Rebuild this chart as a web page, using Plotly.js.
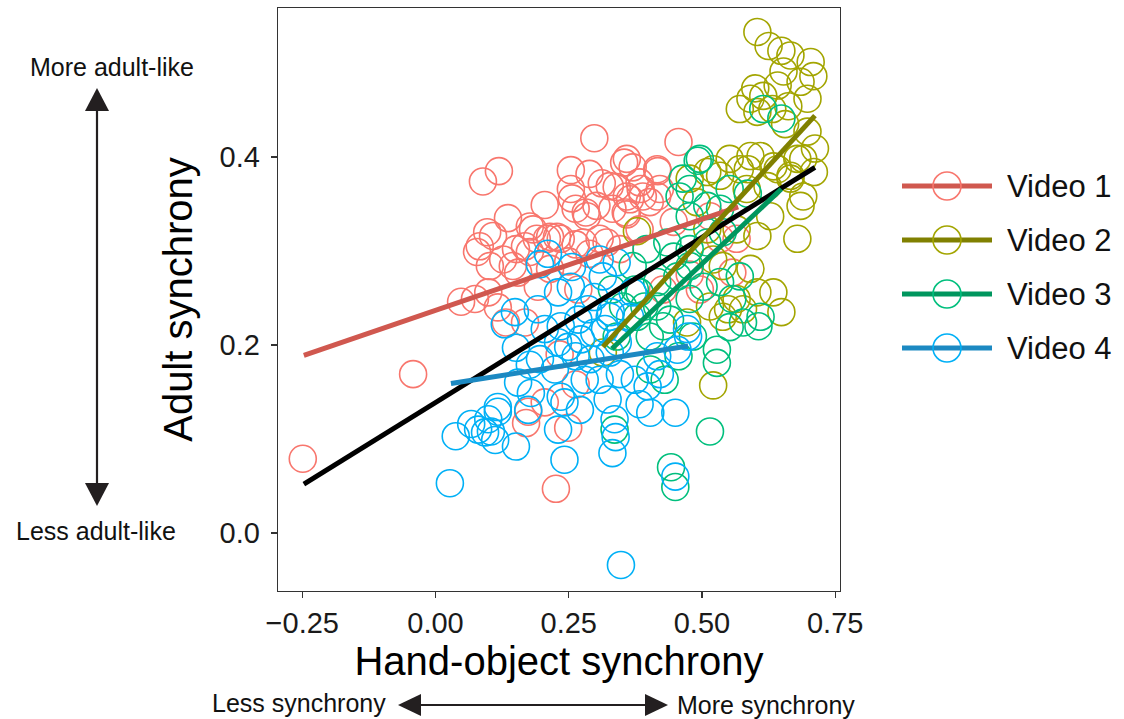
<!DOCTYPE html>
<html>
<head>
<meta charset="utf-8">
<script src="https://cdn.plot.ly/plotly-3.0.1.min.js"></script>
<style>
  html, body { margin: 0; padding: 0; background: #fff; }
  #chart { width: 1124px; height: 719px; }
</style>
</head>
<body>
<div id="chart"></div>
<script>
// Per-frame synchrony scores for each video
const videoNames = ["Video 1", "Video 2", "Video 3", "Video 4"];

const v1x = [-0.249, -0.042, 0.226, 0.170, 0.249, 0.205, 0.174, 0.048, 0.074, 0.099, 0.117, 0.132, 0.168, 0.192, 0.268,
  0.298, 0.456, 0.089, 0.119, 0.254, 0.289, 0.312, 0.340, 0.354, 0.370, 0.417, 0.205, 0.256, 0.263, 0.284,
  0.359, 0.389, 0.332, 0.359, 0.136, 0.097, 0.078, 0.108, 0.177, 0.190, 0.209, 0.228, 0.168, 0.277, 0.321,
  0.145, 0.155, 0.327, 0.385, 0.421, 0.365, 0.402, 0.254, 0.282, 0.357, 0.083, 0.183, 0.215, 0.235, 0.263,
  0.308, 0.151, 0.177, 0.127, 0.102, 0.359, 0.416, 0.383, 0.302, 0.416, 0.447, 0.565, 0.557, 0.496, 0.427,
  0.515, 0.215, 0.249, 0.289, 0.383, 0.346, 0.233, 0.263, 0.477, 0.534];
const v1y = [0.079, 0.169, 0.047, 0.117, 0.112, 0.139, 0.129, 0.246, 0.249, 0.256, 0.240, 0.224, 0.224, 0.262, 0.259,
  0.420, 0.416, 0.374, 0.385, 0.386, 0.382, 0.372, 0.368, 0.394, 0.389, 0.385, 0.349, 0.356, 0.345, 0.337,
  0.358, 0.358, 0.345, 0.339, 0.335, 0.320, 0.299, 0.316, 0.326, 0.313, 0.313, 0.315, 0.305, 0.309, 0.309,
  0.284, 0.277, 0.369, 0.366, 0.366, 0.355, 0.352, 0.366, 0.341, 0.341, 0.305, 0.323, 0.315, 0.313, 0.307,
  0.313, 0.302, 0.299, 0.291, 0.284, 0.398, 0.387, 0.373, 0.348, 0.358, 0.331, 0.313, 0.277, 0.259, 0.259,
  0.337, 0.281, 0.289, 0.297, 0.323, 0.302, 0.190, 0.158, 0.275, 0.313];

const v2x = [0.604, 0.625, 0.649, 0.666, 0.704, 0.709, 0.653, 0.642, 0.685, 0.600, 0.571, 0.604, 0.632, 0.656, 0.591,
  0.615, 0.698, 0.662, 0.698, 0.712, 0.710, 0.679, 0.666, 0.634, 0.591, 0.571, 0.534, 0.510, 0.584, 0.623,
  0.690, 0.477, 0.521, 0.552, 0.586, 0.610, 0.642, 0.666, 0.690, 0.685, 0.679, 0.628, 0.604, 0.634, 0.649,
  0.604, 0.565, 0.539, 0.472, 0.521, 0.539, 0.490, 0.510, 0.565, 0.378, 0.591, 0.314, 0.521, 0.577, 0.549,
  0.515];
const v2y = [0.533, 0.518, 0.513, 0.508, 0.501, 0.486, 0.491, 0.476, 0.480, 0.473, 0.451, 0.448, 0.451, 0.435, 0.462,
  0.465, 0.462, 0.454, 0.427, 0.409, 0.384, 0.398, 0.377, 0.390, 0.401, 0.387, 0.380, 0.384, 0.366, 0.369,
  0.358, 0.377, 0.387, 0.398, 0.387, 0.401, 0.387, 0.380, 0.398, 0.348, 0.313, 0.337, 0.316, 0.256, 0.235,
  0.256, 0.249, 0.230, 0.224, 0.291, 0.284, 0.352, 0.323, 0.323, 0.321, 0.281, 0.192, 0.157, 0.238, 0.238,
  0.241];

const v3x = [0.496, 0.464, 0.477, 0.510, 0.477, 0.435, 0.396, 0.370, 0.447, 0.477, 0.510, 0.539, 0.477, 0.454, 0.416,
  0.383, 0.352, 0.378, 0.416, 0.503, 0.534, 0.571, 0.557, 0.610, 0.577, 0.528, 0.483, 0.427, 0.340, 0.402,
  0.615, 0.649, 0.492, 0.458, 0.515, 0.528, 0.606, 0.450, 0.552, 0.336, 0.403, 0.430, 0.456, 0.374, 0.392,
  0.331, 0.442, 0.586, 0.534, 0.552, 0.440, 0.477];
const v3y = [0.398, 0.377, 0.366, 0.348, 0.337, 0.309, 0.302, 0.284, 0.294, 0.302, 0.309, 0.320, 0.284, 0.273, 0.267,
  0.256, 0.241, 0.230, 0.241, 0.262, 0.267, 0.273, 0.249, 0.230, 0.224, 0.195, 0.209, 0.220, 0.209, 0.209,
  0.451, 0.441, 0.396, 0.358, 0.108, 0.181, 0.220, 0.049, 0.219, 0.110, 0.174, 0.163, 0.188, 0.259, 0.241,
  0.259, 0.070, 0.361, 0.345, 0.366, 0.227, 0.249];

const v4x = [0.149, 0.151, 0.192, 0.230, 0.254, 0.235, 0.268, 0.286, 0.230, 0.249, 0.273, 0.298, 0.318, 0.329, 0.342,
  0.263, 0.291, 0.327, 0.155, 0.179, 0.117, 0.099, 0.093, 0.112, 0.151, 0.230, 0.242, 0.235, 0.280, 0.323,
  0.336, 0.338, 0.332, 0.374, 0.398, 0.403, 0.450, 0.027, 0.038, 0.067, 0.080, 0.104, 0.117, 0.174, 0.242,
  0.348, 0.450, 0.308, 0.340, 0.314, 0.370, 0.327, 0.365, 0.472, 0.416, 0.454, 0.474, 0.130, 0.196, 0.211,
  0.256, 0.298, 0.196, 0.224, 0.308, 0.383, 0.421, 0.271, 0.177, 0.346, 0.205];
const v4y = [0.235, 0.197, 0.238, 0.256, 0.262, 0.220, 0.227, 0.238, 0.203, 0.198, 0.206, 0.213, 0.217, 0.235, 0.203,
  0.188, 0.185, 0.192, 0.160, 0.149, 0.134, 0.121, 0.107, 0.099, 0.092, 0.110, 0.078, 0.145, 0.163, 0.142,
  0.121, 0.102, 0.085, 0.163, 0.156, 0.128, 0.128, 0.053, 0.103, 0.116, 0.110, 0.108, 0.129, 0.131, 0.139,
  -0.034, 0.060, 0.291, 0.288, 0.273, 0.256, 0.230, 0.230, 0.217, 0.188, 0.195, 0.209, 0.222, 0.286, 0.297,
  0.283, 0.251, 0.185, 0.174, 0.163, 0.137, 0.169, 0.131, 0.179, 0.169, 0.217];

// Linear fits per video, plus the fit over all videos
const fit1x = [-0.247, 0.568], fit1y = [0.189, 0.347];
const fit2x = [0.314, 0.712],  fit2y = [0.198, 0.444];
const fit3x = [0.331, 0.649],  fit3y = [0.196, 0.366];
const fit4x = [0.029, 0.474],  fit4y = [0.159, 0.199];
const fitAllx = [-0.247, 0.712], fitAlly = [0.052, 0.389];

const xTickVals = [-0.25, 0, 0.25, 0.5, 0.75];
const xTickText = ["\u22120.25", "0.00", "0.25", "0.50", "0.75"];
const yTickVals = [0, 0.2, 0.4];
const yTickText = ["0.0", "0.2", "0.4"];

const pointColors = ["#F8766D", "#A3A500", "#00BF7D", "#00B0F6"];
const lineColors  = ["#D0584F", "#808000", "#00965E", "#1C89C2"];

const FONT = "Liberation Sans, Arial, Helvetica, sans-serif";
const pts = [[v1x, v1y], [v2x, v2y], [v3x, v3y], [v4x, v4y]];
const fits = [[fit1x, fit1y], [fit2x, fit2y], [fit3x, fit3y], [fit4x, fit4y]];

const traces = [];
pts.forEach(([x, y], i) => {
  traces.push({
    type: "scatter", mode: "markers", x: x, y: y, name: videoNames[i],
    showlegend: false, hoverinfo: "x+y+name",
    marker: { symbol: "circle-open", size: 27, color: pointColors[i], line: { width: 1.6, color: pointColors[i] } }
  });
});
function fitTrace(x, y, color, name) {
  return { type: "scatter", mode: "lines", x: x, y: y, name: name, showlegend: false,
           line: { color: color, width: 5 }, hoverinfo: "skip" };
}
traces.push(fitTrace(fits[0][0], fits[0][1], lineColors[0], videoNames[0]));
traces.push(fitTrace(fitAllx, fitAlly, "#000000", "All"));
for (let i = 1; i < 4; i++) traces.push(fitTrace(fits[i][0], fits[i][1], lineColors[i], videoNames[i]));

// Plot box in pixels: left 278, right 840, top 8, bottom 591
const PL = 278, PR = 840, PT = 8, PB = 591;
const px = v => (v - PL) / (PR - PL);
const py = v => (PB - v) / (PB - PT);

const shapes = [];
const annotations = [];

// Legend: line with open circle, then label
const legendRows = [186, 240, 294, 348];
videoNames.forEach((name, i) => {
  const yy = py(legendRows[i]);
  shapes.push({ type: "line", xref: "paper", yref: "paper", x0: px(902), x1: px(992), y0: yy, y1: yy,
                line: { color: lineColors[i], width: 5 } });
  shapes.push({ type: "circle", xref: "paper", yref: "paper", xsizemode: "pixel", ysizemode: "pixel",
                xanchor: px(947), yanchor: yy, x0: -14, x1: 14, y0: -14, y1: 14,
                line: { color: pointColors[i], width: 1.6 } });
  annotations.push({ xref: "paper", yref: "paper", x: px(1005), y: yy, xanchor: "left", yanchor: "middle",
                     text: name, showarrow: false, font: { family: FONT, size: 31, color: "#111" } });
});

// Direction arrows outside the plot
const AC = "#231f20";
function tri(points) {
  return { type: "path", xref: "paper", yref: "paper", fillcolor: AC, line: { width: 0 },
           path: "M" + points.map(p => px(p[0]) + "," + py(p[1])).join("L") + "Z" };
}
shapes.push({ type: "line", xref: "paper", yref: "paper", x0: px(97), x1: px(97), y0: py(108), y1: py(486),
              line: { color: AC, width: 2.2 } });
shapes.push(tri([[97, 88], [85, 111], [109, 111]]));
shapes.push(tri([[97, 506], [85, 483], [109, 483]]));
shapes.push({ type: "line", xref: "paper", yref: "paper", x0: px(418), x1: px(648), y0: py(705), y1: py(705),
              line: { color: AC, width: 2.2 } });
shapes.push(tri([[398, 705], [421, 694], [421, 716]]));
shapes.push(tri([[668, 705], [645, 694], [645, 716]]));

const noteFont = { family: FONT, size: 25, color: "#111" };
annotations.push({ xref: "paper", yref: "paper", x: px(112), y: py(67), text: "More adult-like",
                   showarrow: false, xanchor: "center", yanchor: "middle", font: noteFont });
annotations.push({ xref: "paper", yref: "paper", x: px(96), y: py(531), text: "Less adult-like",
                   showarrow: false, xanchor: "center", yanchor: "middle", font: noteFont });
annotations.push({ xref: "paper", yref: "paper", x: px(388), y: py(703), text: "Less synchrony",
                   showarrow: false, xanchor: "right", yanchor: "middle", font: noteFont });
annotations.push({ xref: "paper", yref: "paper", x: px(675), y: py(705), text: "More synchrony",
                   showarrow: false, xanchor: "left", yanchor: "middle", font: noteFont });

const layout = {
  width: 1124, height: 719,
  margin: { l: PL, r: 1124 - PR, t: PT, b: 719 - PB, pad: 0 },
  paper_bgcolor: "#ffffff", plot_bgcolor: "#ffffff",
  font: { family: FONT, color: "#1a1a1a" },
  showlegend: false,
  xaxis: {
    range: [-0.2955, 0.759], tickvals: xTickVals, ticktext: xTickText,
    ticks: "outside", ticklen: 6, tickwidth: 1.3, tickcolor: "#333",
    tickfont: { family: FONT, size: 29, color: "#1a1a1a" },
    showgrid: false, zeroline: false, showline: true, mirror: true, linecolor: "#333", linewidth: 1.3,
    title: { text: "Hand-object synchrony", font: { family: FONT, size: 40, color: "#000" }, standoff: 8 }
  },
  yaxis: {
    range: [-0.0617, 0.5585], tickvals: yTickVals, ticktext: yTickText,
    ticks: "outside", ticklen: 6, tickwidth: 1.3, tickcolor: "#333", ticklabelstandoff: 5,
    tickfont: { family: FONT, size: 29, color: "#1a1a1a" },
    showgrid: false, zeroline: false, showline: true, mirror: true, linecolor: "#333", linewidth: 1.3,
    title: { text: "Adult synchrony", font: { family: FONT, size: 40, color: "#000" }, standoff: 14 }
  },
  shapes: shapes,
  annotations: annotations
};

Plotly.newPlot("chart", traces, layout, { displayModeBar: false, staticPlot: true });
</script>
</body>
</html>
